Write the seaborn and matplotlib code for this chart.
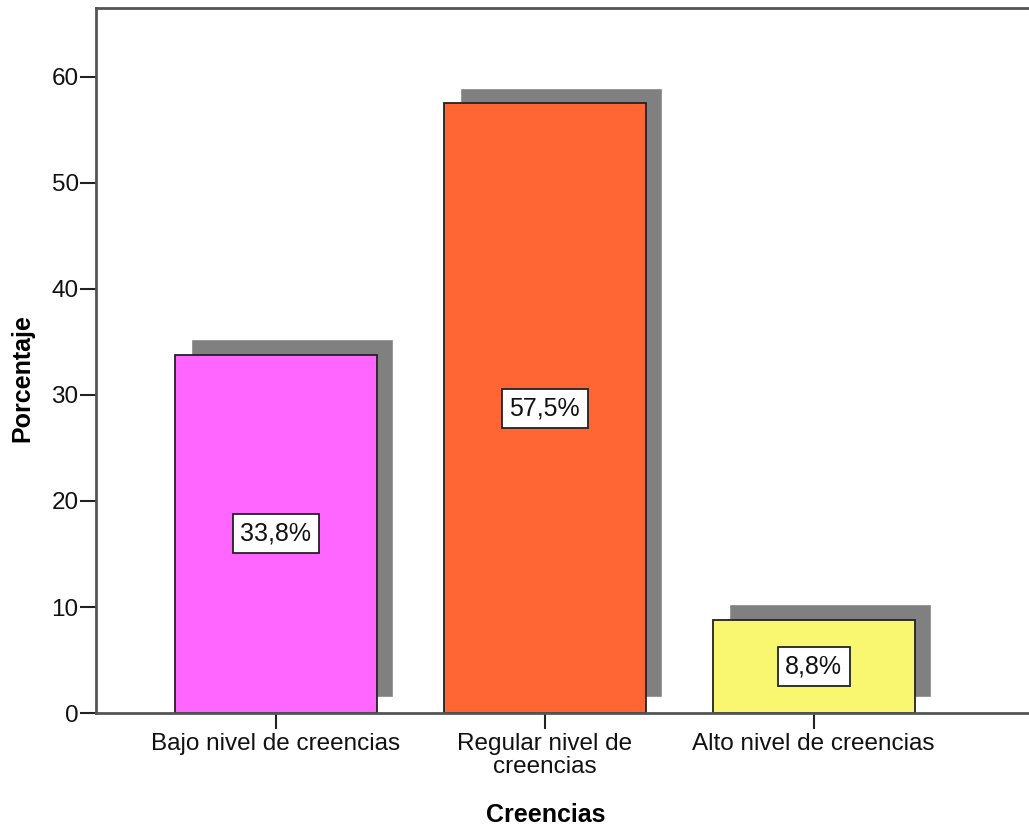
import seaborn as sns
import matplotlib.pyplot as plt
import pandas as pd
import numpy as np

# data
categorias = ['Bajo nivel de creencias', 'Regular nivel de\ncreencias', 'Alto nivel de creencias']
porcentaje = [33.8, 57.5, 8.8]
etiquetas = ['33,8%', '57,5%', '8,8%']
colores = ['#FF66FF', '#FF6633', '#F9F76F']

df = pd.DataFrame({'Creencias': categorias, 'Porcentaje': porcentaje})

sns.set_style('white')
plt.rcParams['font.family'] = ['Liberation Sans', 'DejaVu Sans']

fig = plt.figure(figsize=(10.29, 8.32), dpi=100)
ax = fig.add_axes([0.0933, 0.143, 0.91, 0.8474])

# drop shadows behind the bars
pos = np.arange(len(categorias))
ax.bar(pos + 0.06, porcentaje, bottom=1.5, width=0.75, color='#808080', zorder=1)

sns.barplot(data=df, x='Creencias', y='Porcentaje', hue='Creencias', palette=colores,
            saturation=1, width=0.75, edgecolor='#222222', linewidth=1.3, legend=False,
            ax=ax, zorder=2)

for i, (v, t) in enumerate(zip(porcentaje, etiquetas)):
    ax.text(i, v / 2, t, ha='center', va='center', fontsize=18, color='#111111', zorder=3,
            bbox=dict(boxstyle='square,pad=0.3', facecolor='white', edgecolor='#222222', linewidth=1.3))

ax.set_ylim(0, 66.5)
ax.set_xlim(-0.668, 2.813)
ax.set_yticks([0, 10, 20, 30, 40, 50, 60])
ax.set_xlabel('Creencias', fontsize=18, fontweight='bold', color='black')
ax.set_ylabel('Porcentaje', fontsize=18, fontweight='bold', color='black')
ax.xaxis.set_label_coords(0.48, -0.145)
ax.yaxis.set_label_coords(-0.079, 0.475)
ax.xaxis.label.set_va('center')
ax.yaxis.label.set_va('center')
ax.tick_params(axis='y', direction='out', length=11.5, width=1.5, color='#222222',
               labelsize=17.5, labelcolor='#111111', left=True, pad=1)
ax.tick_params(axis='x', direction='out', length=11.5, width=1.5, color='#222222',
               labelsize=17.5, labelcolor='#111111', bottom=True, pad=3)
for lbl in ax.get_xticklabels():
    lbl.set_linespacing(1.05)

for s in ['left', 'top', 'bottom']:
    ax.spines[s].set_color('#555555')
    ax.spines[s].set_linewidth(2)
ax.spines['right'].set_visible(False)

fig.savefig('out.png', dpi=100)
